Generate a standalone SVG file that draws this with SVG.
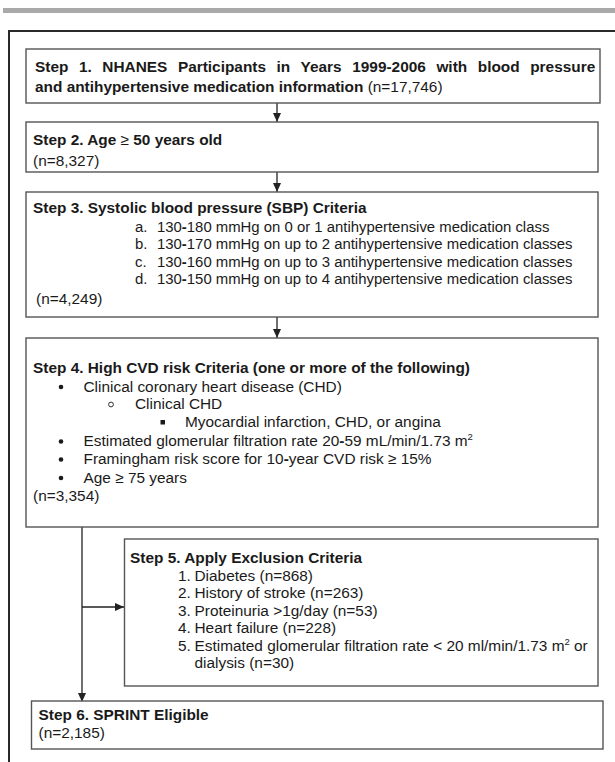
<svg xmlns="http://www.w3.org/2000/svg" width="615" height="762" viewBox="0 0 615 762">
<defs>
<style>
.box{fill:#fff;stroke:#555;stroke-width:1.4}
.frame{fill:none;stroke:#2a2a2a;stroke-width:2}
.con{fill:none;stroke:#222;stroke-width:1.3}
text{font-family:"Liberation Sans",Arial,sans-serif;fill:#1a1a1a;font-size:15.4px}
.b{font-weight:bold}
.n{font-weight:normal}
.s3{font-size:14.9px}
.sup{font-size:9.5px}
.dot{fill:#1a1a1a}
</style>
<marker id="ah" markerWidth="10" markerHeight="10" refX="9" refY="5" orient="auto" markerUnits="userSpaceOnUse">
<path d="M0,1 L9,5 L0,9 Z" fill="#222"/>
</marker>
</defs>
<rect x="0" y="0" width="615" height="762" fill="#fff"/>
<rect x="3" y="8" width="612" height="5" fill="#a9a9a9"/>
<path class="frame" d="M9,762 V31 H616"/>

<g id="connectors">
<line class="con" x1="277" y1="103" x2="277" y2="122" marker-end="url(#ah)"/>
<line class="con" x1="277" y1="172" x2="277" y2="192" marker-end="url(#ah)"/>
<line class="con" x1="277" y1="317" x2="277" y2="338" marker-end="url(#ah)"/>
<line class="con" x1="82" y1="527" x2="82" y2="702" marker-end="url(#ah)"/>
<line class="con" x1="82" y1="607" x2="124" y2="607" marker-end="url(#ah)"/>
</g>

<g id="step1">
<rect class="box" x="26" y="49" width="574" height="54"/>
<text class="b" x="35" y="72" word-spacing="6.3">Step 1. NHANES Participants in Years 1999-2006 with blood pressure</text>
<text class="b" x="35" y="92">and antihypertensive medication information <tspan class="n">(n=17,746)</tspan></text>
</g>

<g id="step2">
<rect class="box" x="26" y="122" width="572" height="50"/>
<text class="b" x="33" y="145">Step 2. Age <tspan class="n">≥</tspan> 50 years old</text>
<text x="33" y="166">(n=8,327)</text>
</g>

<g id="step3">
<rect class="box" x="26" y="192" width="572" height="125"/>
<text class="b" x="33" y="213">Step 3. Systolic blood pressure (SBP) Criteria</text>
<text class="s3" x="135" y="232">a.</text><text class="s3" x="157" y="232">130<tspan class="b">-</tspan>180 mmHg on 0 or 1 antihypertensive medication class</text>
<text class="s3" x="135" y="249">b.</text><text class="s3" x="157" y="249">130<tspan class="b">-</tspan>170 mmHg on up to 2 antihypertensive medication classes</text>
<text class="s3" x="135" y="267">c.</text><text class="s3" x="157" y="267">130<tspan class="b">-</tspan>160 mmHg on up to 3 antihypertensive medication classes</text>
<text class="s3" x="135" y="284">d.</text><text class="s3" x="157" y="284">130<tspan class="b">-</tspan>150 mmHg on up to 4 antihypertensive medication classes</text>
<text x="36" y="304">(n=4,249)</text>
</g>

<g id="step4">
<rect class="box" x="26" y="338" width="572" height="189"/>
<text class="b" x="33" y="373">Step 4. High CVD risk Criteria (one or more of the following)</text>
<circle class="dot" cx="61" cy="387" r="2.3"/>
<text x="83.5" y="392">Clinical coronary heart disease (CHD)</text>
<circle cx="111" cy="404.5" r="2.4" fill="none" stroke="#1a1a1a" stroke-width="0.9"/>
<text x="135" y="409">Clinical CHD</text>
<rect class="dot" x="160.5" y="420" width="4.5" height="4.5"/>
<text x="185" y="427">Myocardial infarction, CHD, or angina</text>
<circle class="dot" cx="61" cy="441.5" r="2.3"/>
<text x="83.5" y="446">Estimated glomerular filtration rate 20<tspan class="b">-</tspan>59 mL/min/1.73 m<tspan class="sup" dy="-6">2</tspan></text>
<circle class="dot" cx="61" cy="459.5" r="2.3"/>
<text x="83.5" y="464">Framingham risk score for 10<tspan class="b">-</tspan>year CVD risk ≥ 15%</text>
<circle class="dot" cx="61" cy="478" r="2.3"/>
<text x="83.5" y="483">Age ≥ 75 years</text>
<text x="33" y="501">(n=3,354)</text>
</g>

<g id="step5">
<rect class="box" x="124.5" y="539" width="473.5" height="147"/>
<text class="b" x="130" y="563">Step 5. Apply Exclusion Criteria</text>
<text x="178" y="581">1.</text><text x="194.5" y="581">Diabetes (n=868)</text>
<text x="178" y="598">2.</text><text x="194.5" y="598">History of stroke (n=263)</text>
<text x="178" y="616">3.</text><text x="194.5" y="616">Proteinuria &gt;1g/day (n=53)</text>
<text x="178" y="633">4.</text><text x="194.5" y="633">Heart failure (n=228)</text>
<text x="178" y="650.5">5.</text><text x="194.5" y="650.5">Estimated glomerular filtration rate &lt; 20 ml/min/1.73 m<tspan class="sup" dy="-6">2</tspan><tspan dy="6"> or</tspan></text>
<text x="194.5" y="668">dialysis (n=30)</text>
</g>

<g id="step6">
<rect class="box" x="31.5" y="701" width="571.5" height="48"/>
<text class="b" x="38.5" y="720">Step 6. SPRINT Eligible</text>
<text x="38.5" y="738">(n=2,185)</text>
</g>
</svg>
